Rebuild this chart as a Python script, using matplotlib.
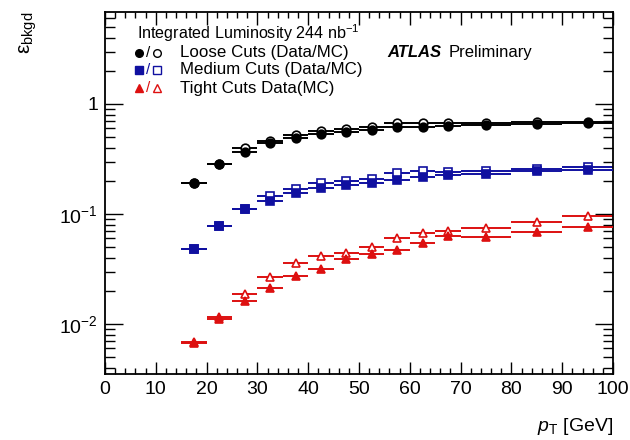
import numpy as np
import matplotlib
matplotlib.use("Agg")
import matplotlib.pyplot as plt
from matplotlib.ticker import FixedLocator, MultipleLocator, NullFormatter

plt.rcParams["font.family"] = ["Liberation Sans", "DejaVu Sans"]
plt.rcParams["mathtext.fontset"] = "custom"
plt.rcParams["mathtext.rm"] = "Liberation Sans"
plt.rcParams["mathtext.it"] = "Liberation Sans:italic"
plt.rcParams["mathtext.bf"] = "Liberation Sans:bold"

# pT bins [GeV]
bin_lo = [15, 20, 25, 30, 35, 40, 45, 50, 55, 60, 65, 70, 80, 90]
bin_hi = [20, 25, 30, 35, 40, 45, 50, 55, 60, 65, 70, 80, 90, 100]

# background efficiencies
loose_data = [0.190, 0.283, 0.368, 0.439, 0.494, 0.530, 0.553, 0.580, 0.615, 0.622, 0.631, 0.648, 0.658, 0.668]
loose_mc = [0.192, 0.286, 0.398, 0.464, 0.523, 0.568, 0.593, 0.614, 0.665, 0.676, 0.668, 0.676, 0.686, 0.686]
medium_data = [0.0478, 0.0778, 0.110, 0.131, 0.154, 0.171, 0.184, 0.190, 0.204, 0.218, 0.226, 0.231, 0.2475, 0.251]
medium_mc = [0.0482, 0.0785, 0.112, 0.146, 0.168, 0.193, 0.1995, 0.207, 0.238, 0.2475, 0.2424, 0.246, 0.2566, 0.269]
tight_data = [0.00676, 0.0111, 0.0162, 0.0214, 0.0275, 0.0316, 0.0387, 0.0430, 0.0471, 0.0542, 0.0631, 0.0614, 0.0682, 0.0767]
tight_mc = [0.0068, 0.0116, 0.0187, 0.0266, 0.0356, 0.0415, 0.0445, 0.0498, 0.0601, 0.0668, 0.0705, 0.0741, 0.0841, 0.0959]

y_ticks = [0.01, 0.1, 1.0]
y_tick_labels = [r"$10^{-2}$", r"$10^{-1}$", "1"]

BLACK = "#000000"
BLUE = "#1010a0"
RED = "#dd1010"

lo = np.array(bin_lo, float)
hi = np.array(bin_hi, float)
xc = 0.5 * (lo + hi)
xerr = 0.5 * (hi - lo)

fig = plt.figure(figsize=(6.3, 4.4), dpi=100)
ax = fig.add_axes([105 / 630, 66 / 440, 508 / 630, 362 / 440])
ax.set_yscale("log")
ax.set_xlim(0, 100)
ax.set_ylim(0.00351, 6.86)


def draw(vals, color, marker, filled, z):
    v = np.array(vals)
    ax.errorbar(xc, v, xerr=xerr, yerr=0.025 * v, fmt="none", ecolor=color,
                elinewidth=1.4, capsize=0, zorder=z)
    ax.plot(xc, v, linestyle="none", marker=marker, markersize=6.2,
            markerfacecolor=color if filled else "white",
            markeredgecolor=color, markeredgewidth=1.2, zorder=z + 0.5)


draw(loose_mc, BLACK, "o", False, 2)
draw(medium_mc, BLUE, "s", False, 2)
draw(tight_mc, RED, "^", False, 2)
draw(loose_data, BLACK, "o", True, 4)
draw(medium_data, BLUE, "s", True, 4)
draw(tight_data, RED, "^", True, 4)

# ticks inside on all sides
ax.xaxis.set_major_locator(MultipleLocator(10))
ax.xaxis.set_minor_locator(MultipleLocator(2))
ax.yaxis.set_major_locator(FixedLocator(y_ticks))
ax.set_yticklabels(y_tick_labels)
minor = [m * 10.0 ** e for e in range(-3, 1) for m in range(2, 10)]
ax.yaxis.set_minor_locator(FixedLocator(minor))
ax.yaxis.set_minor_formatter(NullFormatter())
ax.tick_params(which="both", direction="in", top=True, right=True, width=1.0)
ax.tick_params(which="major", length=9, labelsize=14, pad=5)
ax.tick_params(which="minor", length=4.5)
ax.tick_params(axis="y", which="major", length=13)
ax.tick_params(axis="y", which="minor", length=7)
for s in ax.spines.values():
    s.set_linewidth(1.3)

ax.text(1.0, -0.145, r"$p_{\mathrm{T}}$ [GeV]", transform=ax.transAxes,
        ha="right", va="center", fontsize=14)
ax.text(-0.152, 1.0, r"$\mathrm{ε}_{\mathrm{bkgd}}$", transform=ax.transAxes,
        ha="center", va="top", rotation=90, fontsize=15)

# legend block
ax.text(0.063, 0.942, r"Integrated Luminosity 244 nb$^{-1}$", transform=ax.transAxes,
        ha="left", va="center", fontsize=11.6)
rows = [(0.887, BLACK, "o", "Loose Cuts (Data/MC)"),
        (0.840, BLUE, "s", "Medium Cuts (Data/MC)"),
        (0.790, RED, "^", "Tight Cuts Data(MC)")]
for y, c, m, label in rows:
    ax.plot([0.067], [y], transform=ax.transAxes, marker=m, markersize=5.5,
            color=c, linestyle="none", clip_on=False)
    ax.text(0.085, y, "/", transform=ax.transAxes, ha="center", va="center",
            fontsize=11, color=c)
    ax.plot([0.102], [y], transform=ax.transAxes, marker=m, markersize=5.5,
            markerfacecolor="white", markeredgecolor=c, markeredgewidth=1.0,
            linestyle="none", clip_on=False)
    ax.text(0.148, y, label, transform=ax.transAxes, ha="left", va="center",
            fontsize=12.2)

ax.text(0.555, 0.887, "ATLAS", transform=ax.transAxes, ha="left", va="center",
        fontsize=12, fontweight="bold", fontstyle="italic")
ax.text(0.677, 0.887, "Preliminary", transform=ax.transAxes, ha="left", va="center",
        fontsize=12)

fig.savefig("out.png", dpi=100)
